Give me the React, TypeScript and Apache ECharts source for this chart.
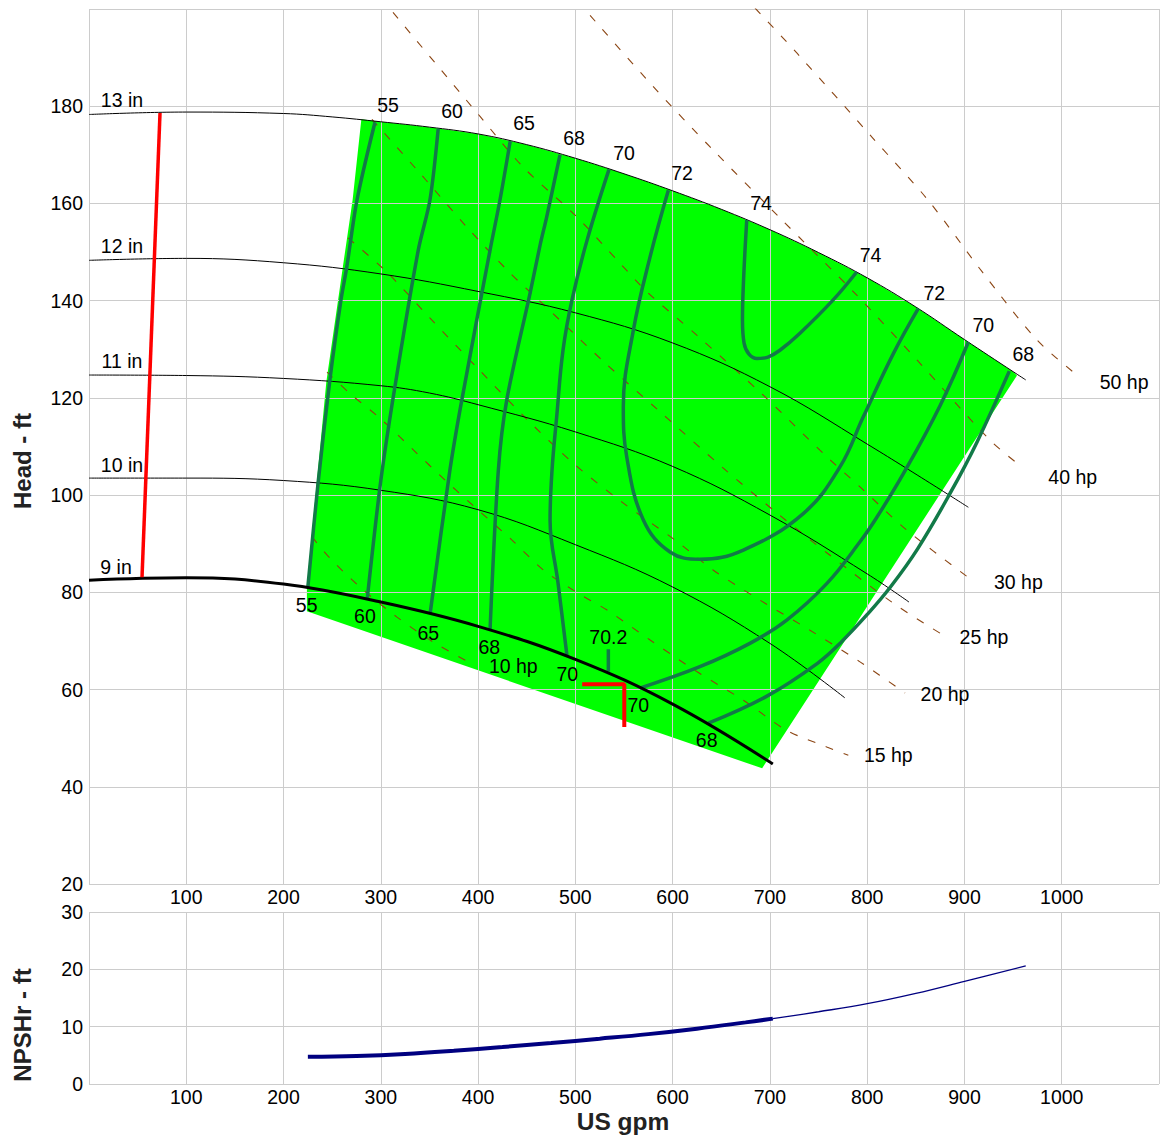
import React, { useEffect, useRef } from "react";
import * as echarts from "echarts";

// ---- impeller curves (US gpm, ft) ----
const curve13 = [[0,178.3],[100,178.8],[200,178.5],[250,177.8],[300,176.8],[350,175.7],[400,174.3],[450,172.1],[500,169.3],[550,166.1],[600,162.6],[650,158.8],[700,154.6],[750,149.9],[800,144.7],[850,138.7],[900,132.0],[950,125.4],[963,123.7]];
const curve12 = [[0,148.3],[100,148.7],[200,147.8],[300,145.5],[400,141.9],[500,137.5],[600,131.3],[700,122.3],[800,110.5],[904,97.5]];
const curve11 = [[0,124.7],[100,124.6],[200,124.0],[300,122.5],[350,121.0],[400,118.6],[500,113.0],[600,105.9],[700,95.9],[800,83.8],[843,78.0]];
const curve10 = [[0,103.5],[100,103.5],[200,103.0],[300,101.0],[400,97.0],[500,89.8],[600,81.1],[700,69.5],[777,58.3]];
const curve9 = [[0,82.5],[100,83.0],[200,81.7],[300,78.0],[400,73.0],[500,66.2],[600,57.0],[703,44.7]];

// ---- preferred operating region (left edge, bottom/right corners; top follows 13 in) ----
const greenLeftEdge = [[224,76.1],[224,81.1],[244,123.3],[261,147.0],[271,160.7],[280,177.3]];
const greenRightCorner = [[692,43.8],[954,124.6]];

// ---- efficiency contours (%) ----
const eff55 = [[294,176.7],[275.5,160.7],[265,146.9],[259,140.1],[248,124.3],[235.5,102.5],[225,81.1]];
const eff60 = [[359,175.4],[350.5,160.7],[338.5,150.4],[314.5,122.3],[300,103.0],[286,78.6]];
const eff65 = [[433,172.8],[422.5,160.7],[412.3,150.4],[383.2,119.5],[371,105.1],[350.6,75.5]];
const eff68 = [[484.2,170.0],[470.5,157.2],[463.7,151.4],[453.4,141.5],[429.4,119.5],[420.8,105.1],[412.3,72.3]];
const eff70a = [[534.6,167.0],[512.0,152.4],[496.5,140.1],[487.3,129.8],[480.8,116.1],[476.0,105.1],[474.0,94.9],[482.2,81.9],[491.4,66.9]];
const eff72 = [[595.6,162.7],[576.8,149.0],[559.6,133.9],[549.3,118.2],[552.8,107.9],[569.9,94.9],[597.3,88.3],[628.1,86.8],[672.7,88.7],[734.3,96.2],[772.0,105.8],[796.0,116.1],[826.9,129.1],[852.6,138.4]];
const eff74 = [[676.2,156.6],[672.9,144.2],[671.8,136.0],[673.4,131.3],[678.5,129.0],[686.7,128.1],[698.0,128.4],[710.3,129.8],[730.9,133.3],[764.8,140.1],[789.2,145.9]];
const eff70b = [[566.3,60.3],[628.0,64.7],[679.4,69.5],[717.3,74.3],[758.4,81.8],[792.6,90.4],[809.8,95.4],[837.2,104.4],[874.9,118.4],[904.0,131.5]];
const eff68b = [[636.8,53.1],[697.4,58.7],[748.9,65.4],[772.5,69.6],[800.3,75.5],[823.9,81.1],[851.7,88.9],[885.6,100.5],[913.1,111.0],[946.1,125.5]];
const eff702 = [[533.9,68.3],[533.9,63.7]];

// ---- power lines (hp) ----
const hp50 = [[684.7,200.2],[727.9,190.9],[806.0,173.4],[862.5,160.7],[919.1,145.7],[974.6,131.9],[1015.7,124.7]];
const hp40 = [[515.1,198.7],[579.8,184.1],[641.5,171.0],[710.4,157.0],[787.5,141.5],[851.2,127.8],[926.3,111.3],[960.2,105.6]];
const hp30 = [[312.5,199.3],[402.0,177.9],[446.2,167.5],[501.7,157.2],[545.9,147.7],[573.7,141.8],[624.8,132.9],[692.9,120.6],[758.4,107.9],[792.6,101.7],[840.7,92.8],[903.7,83.1]];
const hp25 = [[290.9,177.3],[340.3,166.2],[388.6,155.1],[432.8,145.7],[465.7,139.5],[530.5,127.2],[585.0,117.5],[651.8,105.6],[707.3,96.3],[758.7,88.1],[826.6,77.8],[874.9,71.6]];
const hp20 = [[266.3,152.9],[306.1,145.9],[350.6,136.4],[398.6,126.3],[448.2,116.0],[497.6,106.6],[549.0,98.4],[604.2,90.5],[641.5,84.6],[689.8,78.4],[741.2,72.2],[792.6,65.7],[838.9,59.3]];
const hp15 = [[244.7,125.3],[268.3,120.9],[299.2,115.8],[333.4,109.3],[366.0,103.1],[400.2,96.9],[434.6,90.8],[467.1,84.6],[503.0,79.8],[532.2,76.4],[576.8,70.2],[624.8,63.7],[672.7,57.8],[717.3,51.6],[758.4,48.2],[780.6,46.5]];
const hp10 = [[229.3,91.4],[247.8,87.0],[280.7,80.7],[316.6,74.9],[353.7,69.8],[391.7,65.5]];

// ---- duty point marks ----
const redLine = [[73,178.6],[54.5,83.1]];
const redCorner = [[507,61.1],[550.3,61.1],[550.3,52.3]];

// ---- NPSHr (ft) ----
const npshThick = [[225,4.75],[275,4.9],[325,5.25],[375,5.8],[425,6.45],[475,7.15],[525,7.9],[575,8.7],[625,9.65],[675,10.75],[703,11.4]];
const npshThin = [[703,11.4],[750,12.6],[800,14.0],[850,15.8],[900,17.9],[963,20.6]];

// ---- labels [text, gpm, ft] ----
const diameterLabels = [["13 in",33.9,181.2],["12 in",33.9,151.2],["11 in",33.9,127.6],["10 in",33.9,106.2],["9 in",27.8,85.2]];
const effTopLabels = [["55",307.4,180.2],["60",373.2,179.0],["65",447.2,176.5],["68",498.6,173.4],["70",550.0,170.4],["72",609.6,166.3],["74",690.9,160.0],["74",803.4,149.4],["72",869.0,141.5],["70",919.4,135.0],["68",960.5,129.1]];
const effBottomLabels = [["55",223.8,77.4],["60",283.7,75.1],["65",348.8,71.7],["68",411.5,68.7],["70",491.7,63.3],["70.2",533.9,70.9],["70",564.7,56.8],["68",635.0,49.6]];
const hpLabels = [["50 hp",1064.1,123.3],["40 hp",1011.3,103.8],["30 hp",955.4,82.2],["25 hp",920.1,70.9],["20 hp",880.0,59.1],["15 hp",821.7,46.5],["10 hp",436.2,64.8]];

const FONT = '"Liberation Sans", Arial, Helvetica, sans-serif';
const GRID_COLOR = "#cccccc";

function lineSeries(data: number[][], color: string, width: number, z: number, extra: any = {}) {
  return {
    type: "line",
    data,
    xAxisIndex: 0,
    yAxisIndex: 0,
    symbol: "none",
    showSymbol: false,
    silent: true,
    z,
    lineStyle: { color, width },
    ...extra,
  };
}

function buildOption() {
  const allLabels = [...diameterLabels, ...effTopLabels, ...effBottomLabels, ...hpLabels];
  const topEdge = curve13.filter((p) => p[0] > 280 && p[0] < 954);
  const region = [...greenLeftEdge, ...topEdge, ...greenRightCorner.slice().reverse()];
  const effColor = "#127a48";
  const hpColor = "#8b4513";
  const hpStyle = (d: number[][]) =>
    ({ ...lineSeries(d, hpColor, 1, 2, { smooth: 0.3 }), lineStyle: { color: hpColor, width: 1.1, type: [8, 11] } });

  const axisLabel = { color: "#000", fontSize: 19.5, fontFamily: FONT };
  const xAxisBase = {
    type: "value",
    min: 0,
    max: 1100,
    interval: 100,
    z: 1,
    axisLine: { show: false },
    axisTick: { show: false },
    splitLine: { show: true, lineStyle: { color: GRID_COLOR, width: 1 } },
    axisLabel: {
      ...axisLabel,
      margin: 3,
      showMinLabel: false,
      showMaxLabel: false,
      formatter: (v: number) => (v === 0 || v === 1100 ? "" : String(v)),
    },
  };
  const smoothCurve = { smooth: 0.4 };
  const titleStyle = (text: string, size: number) => ({
    text,
    fill: "#222",
    fontSize: size,
    fontWeight: "bold",
    fontFamily: FONT,
    align: "center",
    verticalAlign: "middle",
    textAlign: "center",
    textVerticalAlign: "middle",
  });

  return {
    animation: false,
    backgroundColor: "#ffffff",
    grid: [
      { left: 89, top: 9, width: 1070, height: 875 },
      { left: 89, top: 912, width: 1070, height: 172 },
    ],
    xAxis: [
      { ...xAxisBase, gridIndex: 0 },
      { ...xAxisBase, gridIndex: 1 },
    ],
    yAxis: [
      {
        type: "value",
        gridIndex: 0,
        min: 20,
        max: 200,
        interval: 20,
        z: 1,
        axisLine: { show: false },
        axisTick: { show: false },
        splitLine: { show: true, lineStyle: { color: GRID_COLOR, width: 1 } },
        axisLabel: { ...axisLabel, margin: 6, showMaxLabel: false, formatter: (v: number) => (v === 200 ? "" : String(v)) },
      },
      {
        type: "value",
        gridIndex: 1,
        min: 0,
        max: 30,
        interval: 10,
        z: 1,
        axisLine: { show: false },
        axisTick: { show: false },
        splitLine: { show: true, lineStyle: { color: GRID_COLOR, width: 1 } },
        axisLabel: { ...axisLabel, margin: 6 },
      },
    ],
    graphic: [
      { type: "text", x: 22, y: 461, rotation: Math.PI / 2, style: titleStyle("Head - ft", 24) },
      { type: "text", x: 22, y: 1025, rotation: Math.PI / 2, style: titleStyle("NPSHr - ft", 24) },
      { type: "text", x: 623, y: 1121, style: titleStyle("US gpm", 24.5) },
    ],
    series: [
      {
        type: "custom",
        xAxisIndex: 0,
        yAxisIndex: 0,
        z: 0,
        silent: true,
        data: [[500, 100]],
        renderItem: (_params: any, api: any) => ({
          type: "polygon",
          shape: { points: region.map((p) => api.coord(p)) },
          style: { fill: "#00ff00" },
        }),
      },
      hpStyle(hp50),
      hpStyle(hp40),
      hpStyle(hp30),
      hpStyle(hp25),
      hpStyle(hp20),
      hpStyle(hp15),
      hpStyle(hp10),
      lineSeries(curve13, "#000", 1, 3, smoothCurve),
      lineSeries(curve12, "#000", 1, 3, smoothCurve),
      lineSeries(curve11, "#000", 1, 3, smoothCurve),
      lineSeries(curve10, "#000", 1, 3, smoothCurve),
      lineSeries(eff55, effColor, 3.5, 4, { smooth: 0.3 }),
      lineSeries(eff60, effColor, 3.5, 4, { smooth: 0.3 }),
      lineSeries(eff65, effColor, 3.5, 4, { smooth: 0.3 }),
      lineSeries(eff68, effColor, 3.5, 4, { smooth: 0.3 }),
      lineSeries(eff70a, effColor, 3.5, 4, { smooth: 0.4 }),
      lineSeries(eff72, effColor, 3.5, 4, { smooth: 0.4 }),
      lineSeries(eff74, effColor, 3.5, 4, { smooth: 0.4 }),
      lineSeries(eff70b, effColor, 3.5, 4, { smooth: 0.4 }),
      lineSeries(eff68b, effColor, 3.5, 4, { smooth: 0.4 }),
      lineSeries(eff702, effColor, 3.5, 4),
      lineSeries(curve9, "#000", 3, 5, smoothCurve),
      lineSeries(redLine, "#ff0000", 3.5, 6),
      lineSeries(redCorner, "#ff0000", 4, 6),
      {
        type: "custom",
        xAxisIndex: 0,
        yAxisIndex: 0,
        z: 7,
        silent: true,
        data: allLabels.map((l) => [l[1], l[2]]),
        renderItem: (params: any, api: any) => {
          const p = api.coord([api.value(0), api.value(1)]);
          return {
            type: "text",
            x: p[0],
            y: p[1],
            style: {
              text: allLabels[params.dataIndex][0],
              fill: "#000",
              fontSize: 19.5,
              fontFamily: FONT,
              align: "center",
              verticalAlign: "middle",
              textAlign: "center",
              textVerticalAlign: "middle",
            },
          };
        },
      },
      {
        type: "line",
        xAxisIndex: 1,
        yAxisIndex: 1,
        data: npshThick,
        symbol: "none",
        showSymbol: false,
        silent: true,
        smooth: 0.4,
        z: 4,
        lineStyle: { color: "#000080", width: 4 },
      },
      {
        type: "line",
        xAxisIndex: 1,
        yAxisIndex: 1,
        data: npshThin,
        symbol: "none",
        showSymbol: false,
        silent: true,
        smooth: 0.4,
        z: 4,
        lineStyle: { color: "#000080", width: 1.3 },
      },
    ],
  };
}

export default function App() {
  const ref = useRef<HTMLDivElement>(null);
  useEffect(() => {
    if (!ref.current) return;
    const chart = echarts.init(ref.current, null, { renderer: "svg" });
    chart.setOption(buildOption() as any);
    return () => {
      chart.dispose();
    };
  }, []);
  return (
    <div
      ref={ref}
      style={{ position: "fixed", left: 0, top: 0, width: 1165, height: 1136, background: "#ffffff" }}
    />
  );
}
